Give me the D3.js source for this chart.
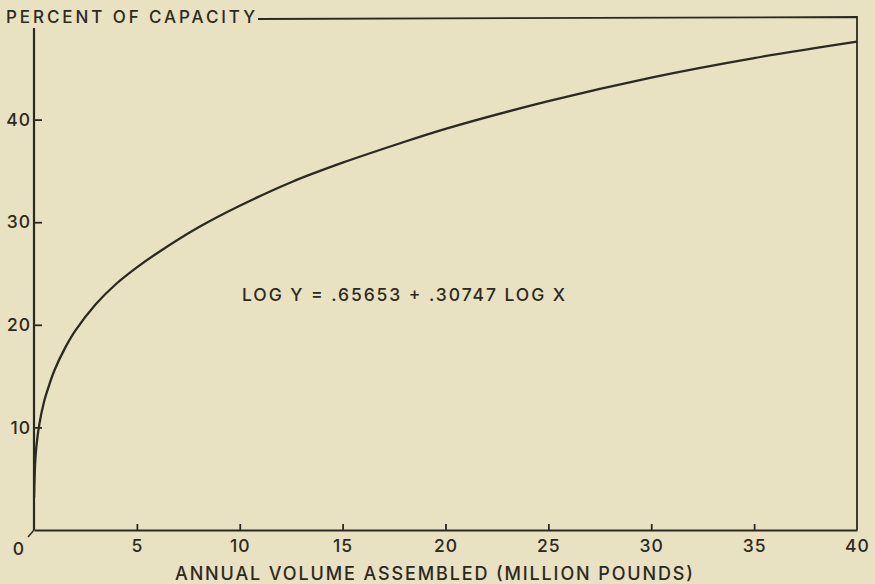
<!DOCTYPE html>
<html>
<head>
<meta charset="utf-8">
<script src="https://cdnjs.cloudflare.com/ajax/libs/d3/7.8.5/d3.min.js"></script>
<style>
    html, body { margin: 0; padding: 0; background: #e8e1c2; }
    #chart { width: 875px; height: 584px; }
    text { font-family: Inter, "DejaVu Sans", sans-serif; font-weight: 500; fill: #2b2a20; }
</style>
</head>
<body>
<div id="chart"></div>
<script>
// values
const volume = [0.005, 0.02, 0.05, 0.1, 0.25, 0.5, 0.75, 1, 1.5, 2, 3, 4, 5, 6, 8, 10, 12.5, 15, 17.5, 20, 25, 30, 35, 40];
const percent = [3.2, 4.5, 6.3, 7.8, 10.2, 12.6, 14.2, 15.6, 17.7, 19.4, 22.0, 24.0, 25.6, 27.0, 29.5, 31.6, 33.9, 35.8, 37.5, 39.1, 41.8, 44.1, 46.0, 47.6];

const xTicks = [5, 10, 15, 20, 25, 30, 35, 40];
const yTicks = [10, 20, 30, 40];

const yTitle = "PERCENT OF CAPACITY";
const xTitle = "ANNUAL VOLUME ASSEMBLED (MILLION POUNDS)";
const equation = "LOG Y = .65653 + .30747 LOG X";

(function() {

    let width = 875,
        height = 584;
    let ink = "#2b2a20";

    let svg = d3.select("#chart")
        .append("svg")
        .attr("width", width)
        .attr("height", height);

    let x = d3.scaleLinear()
        .domain([0, 40])
        .range([34, 857]);

    let y = d3.scaleLinear()
        .domain([0, 50])
        .range([530, 17]);

    // frame on top and right
    svg.append("path")
        .attr("d", `M258,19 L${x(40)},${y(50)} L${x(40)},${y(0)}`)
        .attr("fill", "none")
        .attr("stroke", ink)
        .attr("stroke-width", 1.8);

    // x axis, ticks point up into the plot
    let xAxis = svg.append("g")
        .attr("transform", `translate(0, ${y(0)})`)
        .call(d3.axisBottom(x).tickValues(xTicks).tickSize(-6).tickPadding(10).tickSizeOuter(0));
    xAxis.select(".domain").attr("stroke", ink).attr("stroke-width", 2.2);
    xAxis.selectAll(".tick line").attr("stroke", ink).attr("stroke-width", 1.8);
    xAxis.selectAll(".tick")
        .filter(d => d == 40)
        .select("line").remove();
    xAxis.selectAll(".tick text")
        .attr("fill", ink)
        .style("font-size", "17.5px")
        .style("letter-spacing", "1px");

    // y axis, ticks point right
    let yAxis = svg.append("g")
        .attr("transform", `translate(${x(0)}, 0)`)
        .call(d3.axisLeft(y).tickValues(yTicks).tickSize(-8).tickPadding(3).tickSizeOuter(0));
    yAxis.select(".domain")
        .attr("d", `M0,28 V${y(0)}`)
        .attr("stroke", ink).attr("stroke-width", 2.2);
    yAxis.selectAll(".tick line").attr("stroke", ink).attr("stroke-width", 1.8);
    yAxis.selectAll(".tick text")
        .attr("fill", ink)
        .style("font-size", "17.5px")
        .style("letter-spacing", "1px");
    // d3 puts its own font on the axis groups, take it off
    svg.selectAll("g").attr("font-family", null).attr("font-size", null);

    // zero at the origin, with its little stroke
    svg.append("line")
        .attr("x1", x(0)).attr("y1", y(0))
        .attr("x2", x(0) - 6).attr("y2", y(0) + 7)
        .attr("stroke", ink).attr("stroke-width", 1.5);
    svg.append("text")
        .attr("x", 18.5)
        .attr("y", 555)
        .style("text-anchor", "middle")
        .style("font-size", "17.5px")
        .text("0");

    // the fitted curve
    let line = d3.line()
        .x((d, i) => x(volume[i]))
        .y(d => y(d))
        .curve(d3.curveCatmullRom.alpha(0.5));

    svg.append("path")
        .datum(percent)
        .attr("d", line)
        .attr("fill", "none")
        .attr("stroke", ink)
        .attr("stroke-width", 2.3);

    // titles
    svg.append("text")
        .attr("x", 6)
        .attr("y", 23)
        .attr("textLength", 249)
        .attr("lengthAdjust", "spacing")
        .style("font-size", "17px")
        .text(yTitle);

    svg.append("text")
        .attr("x", 175)
        .attr("y", 580)
        .attr("textLength", 518)
        .attr("lengthAdjust", "spacing")
        .style("font-size", "18px")
        .text(xTitle);

    svg.append("text")
        .attr("x", 242)
        .attr("y", 301)
        .attr("textLength", 323)
        .attr("lengthAdjust", "spacing")
        .style("font-size", "17.5px")
        .text(equation);

})();
</script>
</body>
</html>
